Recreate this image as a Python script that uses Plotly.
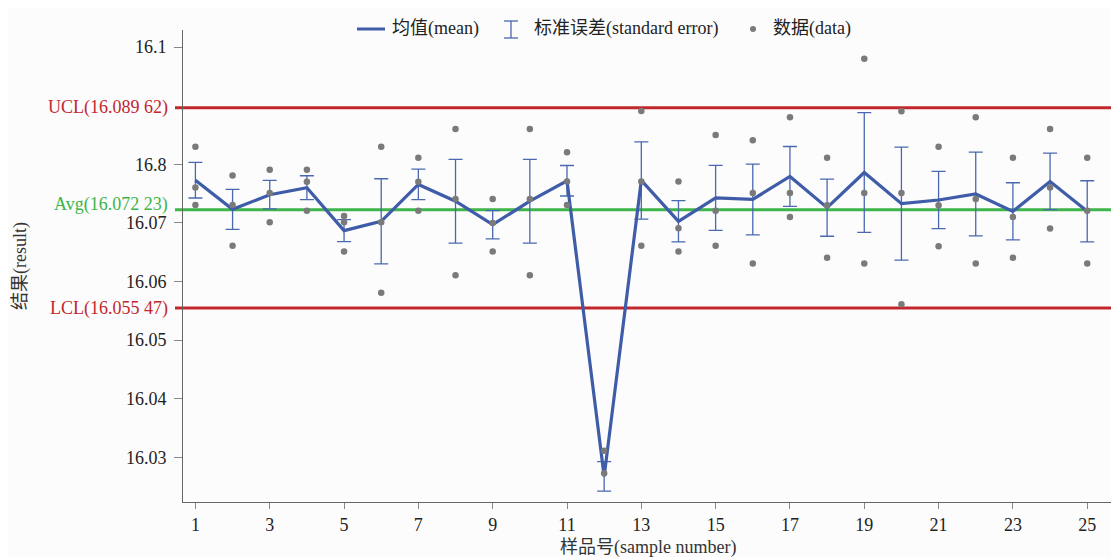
import plotly.graph_objects as go

samples = list(range(1, 26))
means = [16.07728, 16.07231, 16.07481, 16.07600, 16.06869, 16.07027, 16.07656, 16.07370,
         16.06970, 16.07370, 16.07719, 16.02677, 16.07724, 16.07027, 16.07427, 16.07400,
         16.07793, 16.07260, 16.07860, 16.07328, 16.07391, 16.07493, 16.07197, 16.07707,
         16.07197]
std_err = [0.00303, 0.00340, 0.00243, 0.00204, 0.00187, 0.00726, 0.00260, 0.00714,
           0.00241, 0.00714, 0.00260, 0.00252, 0.00658, 0.00352, 0.00553, 0.00604,
           0.00510, 0.00488, 0.01020, 0.00964, 0.00488, 0.00714, 0.00488, 0.00482,
           0.00522]
data_points = [
    [16.0830, 16.07605, 16.07306],
    [16.0781, 16.07306, 16.06609],
    [16.07906, 16.0751, 16.0701],
    [16.07906, 16.07702, 16.07209],
    [16.07119, 16.0701, 16.06512],
    [16.0830, 16.0701, 16.0581],
    [16.0811, 16.07702, 16.07209],
    [16.0860, 16.07408, 16.06109],
    [16.07408, 16.0700, 16.06512],
    [16.0860, 16.07408, 16.06109],
    [16.08207, 16.07707, 16.07306],
    [16.03116, 16.02731],
    [16.0891, 16.07707, 16.06609],
    [16.07707, 16.06908, 16.06512],
    [16.0850, 16.07209, 16.06609],
    [16.0841, 16.0751, 16.06308],
    [16.0880, 16.0751, 16.07102],
    [16.0811, 16.07299, 16.06405],
    [16.0980, 16.0751, 16.06308],
    [16.08905, 16.0751, 16.05611],
    [16.0830, 16.07299, 16.06602],
    [16.0880, 16.07408, 16.06308],
    [16.0811, 16.07102, 16.06405],
    [16.0860, 16.07605, 16.06903],
    [16.0811, 16.07209, 16.06308],
]
UCL = 16.08962
AVG = 16.07223
LCL = 16.05547
ytick_vals = [16.03, 16.04, 16.05, 16.06, 16.07, 16.08, 16.1]
ytick_text = ["16.03", "16.04", "16.05", "16.06", "16.07", "16.8", "16.1"]
xtick_vals = list(range(1, 26, 2))

FONT = "Liberation Serif, 'Noto Sans CJK SC', serif"
MEAN_C = "#3f5ca8"
ERR_C = "#4a68b0"
RED = "#c1272d"
GREEN = "#3db54a"
DOT_C = "#7a7a7a"

# page is offset by the default 8px body margin
OFF = 8
W, H = 1119 - OFF, 557 - OFF
PL, PR, PT, PB = 183, 1111, 30, 502          # plot area in page pixels
L, T = PL - OFF, PT - OFF
R, B = W - (PR - OFF), H - (PB - OFF)
PW, PH = PR - PL, PB - PT


def px(x):
    return (x - PL) / PW


def py(y):
    return (PB - y) / PH


pts_x, pts_y = [], []
for s, vals in zip(samples, data_points):
    for v in vals:
        pts_x.append(s)
        pts_y.append(v)

fig = go.Figure()
fig.add_trace(go.Scatter(
    x=samples, y=means, mode="markers",
    marker=dict(size=1, color="rgba(0,0,0,0)"),
    error_y=dict(type="data", array=std_err, visible=True, color=ERR_C,
                 thickness=1.3, width=7),
    showlegend=False, hoverinfo="skip"))
fig.add_trace(go.Scatter(
    x=samples, y=means, mode="lines",
    line=dict(color=MEAN_C, width=3.2), showlegend=False))
fig.add_trace(go.Scatter(
    x=pts_x, y=pts_y, mode="markers",
    marker=dict(size=6.5, color=DOT_C), showlegend=False))

shapes = []
for val, col in [(UCL, RED), (AVG, GREEN), (LCL, RED)]:
    shapes.append(dict(type="line", xref="paper", yref="y",
                       x0=px(175), x1=px(1112), y0=val, y1=val,
                       line=dict(color=col, width=3), layer="below"))

# manual legend
ly = py(29)
shapes.append(dict(type="line", xref="paper", yref="paper", x0=px(357), x1=px(385),
                   y0=ly, y1=ly, line=dict(color=MEAN_C, width=3)))
shapes.append(dict(type="line", xref="paper", yref="paper", x0=px(511), x1=px(511),
                   y0=py(21), y1=py(38), line=dict(color=ERR_C, width=1.3)))
for yy in (21, 38):
    shapes.append(dict(type="line", xref="paper", yref="paper", x0=px(504), x1=px(518),
                       y0=py(yy), y1=py(yy), line=dict(color=ERR_C, width=1.3)))
shapes.append(dict(type="circle", xref="paper", yref="paper",
                   x0=px(750), x1=px(756), y0=py(26), y1=py(32),
                   fillcolor=DOT_C, line=dict(width=0)))

annotations = [
    dict(text="均值(mean)", x=px(390), y=ly, xref="paper", yref="paper",
         xanchor="left", yanchor="middle", showarrow=False,
         font=dict(family=FONT, size=18, color="#222")),
    dict(text="标准误差(standard error)", x=px(532), y=ly, xref="paper", yref="paper",
         xanchor="left", yanchor="middle", showarrow=False,
         font=dict(family=FONT, size=18, color="#222")),
    dict(text="数据(data)", x=px(771), y=ly, xref="paper", yref="paper",
         xanchor="left", yanchor="middle", showarrow=False,
         font=dict(family=FONT, size=18, color="#222")),
    dict(text="UCL(16.089 62)", x=px(170), y=UCL, xref="paper", yref="y",
         xanchor="right", yanchor="middle", showarrow=False,
         font=dict(family=FONT, size=18, color=RED)),
    dict(text="Avg(16.072 23)", x=px(170), y=AVG, xref="paper", yref="y", yshift=5,
         xanchor="right", yanchor="middle", showarrow=False,
         font=dict(family=FONT, size=18, color=GREEN)),
    dict(text="LCL(16.055 47)", x=px(170), y=LCL, xref="paper", yref="y",
         xanchor="right", yanchor="middle", showarrow=False,
         font=dict(family=FONT, size=18, color=RED)),
    dict(text="结果(result)", x=px(20), y=py(266), xref="paper", yref="paper",
         xanchor="center", yanchor="middle", textangle=-90, showarrow=False,
         font=dict(family=FONT, size=18, color="#333")),
    dict(text="样品号(sample number)", x=px(648), y=py(547), xref="paper", yref="paper",
         xanchor="center", yanchor="middle", showarrow=False,
         font=dict(family=FONT, size=18, color="#333")),
]

fig.update_layout(
    width=W, height=H,
    margin=dict(l=L, r=R, t=T, b=B),
    paper_bgcolor="#fcfcfc", plot_bgcolor="#fcfcfc",
    showlegend=False,
    shapes=shapes, annotations=annotations,
    font=dict(family=FONT, size=18, color="#222"),
    xaxis=dict(range=[0.666, 25.64], tickvals=xtick_vals, showgrid=False,
               zeroline=False, showline=True, linecolor="#666", linewidth=1,
               ticks="outside", ticklen=6, tickcolor="#888",
               tickfont=dict(family=FONT, size=18, color="#222")),
    yaxis=dict(range=[16.0224, 16.1029], tickvals=ytick_vals, ticktext=ytick_text,
               showgrid=False, zeroline=False, showline=True, linecolor="#666",
               linewidth=1, ticks="outside", ticklen=8, tickcolor="#888",
               ticklabelstandoff=4,
               tickfont=dict(family=FONT, size=18, color="#222")),
)

fig.write_html("out.html")
